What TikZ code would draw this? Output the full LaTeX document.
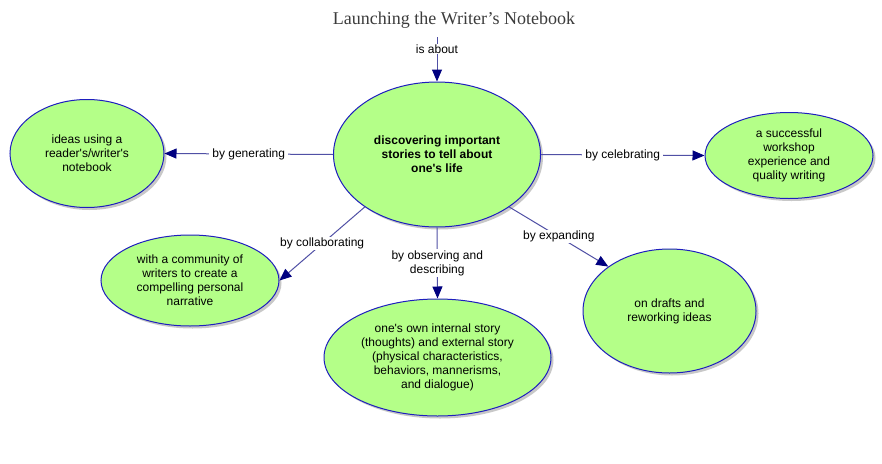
\documentclass[tikz,border=0pt]{standalone}
\usepackage{fontspec}
\setmainfont{Liberation Sans}[Ligatures=TeXOff]
\newfontfamily\titlefont{Liberation Serif}
\usetikzlibrary{shapes.geometric,arrows.meta,shadows}
\definecolor{ellfill}{RGB}{180,255,136}
\definecolor{ellline}{RGB}{30,30,190}
\definecolor{connc}{RGB}{80,80,165}
\definecolor{tipc}{RGB}{0,0,128}
\definecolor{titlec}{RGB}{60,60,60}
\tikzset{
  concept/.style={ellipse, draw=ellline, line width=1pt, fill=ellfill, inner sep=0pt,
    align=center, font=\fontsize{12}{14}\selectfont,
    drop shadow={opacity=0.3, shadow xshift=2.5pt, shadow yshift=-2.5pt, fill=black!70}},
  conn/.style={draw=connc, line width=1pt, -{Triangle[length=12pt,width=10pt,color=tipc]}},
  lab/.style={fill=white, inner xsep=3pt, inner ysep=1pt, align=center, text=black,
    font=\fontsize{12}{14}\selectfont},
}
\begin{document}
\begin{tikzpicture}[x=1pt,y=-1pt]
\fill[white] (0,0) rectangle (882,463);
\useasboundingbox (0,0) rectangle (882,463);

\node[font=\titlefont\fontsize{18}{20}\selectfont, text=titlec] (title) at (454,20) {Launching the Writer’s Notebook};
\coordinate (top) at (437,37);

\node[concept, minimum width=207pt, minimum height=145pt, font=\bfseries\fontsize{12}{14}\selectfont] (c) at (437,154.5)
  {discovering important\\stories to tell about\\one's life};
\node[concept, minimum width=154pt, minimum height=108pt] (g) at (87,153.5)
  {ideas using a\\reader's/writer's\\notebook};
\node[concept, minimum width=178pt, minimum height=91pt] (w) at (190,280.5)
  {with a community of\\writers to create a\\compelling personal\\narrative};
\node[concept, minimum width=227pt, minimum height=117pt] (o) at (437.5,357.5)
  {one's own internal story\\(thoughts) and external story\\(physical characteristics,\\behaviors, mannerisms,\\and dialogue)};
\node[concept, minimum width=173pt, minimum height=124pt] (d) at (669.5,311)
  {on drafts and\\reworking ideas};
\node[concept, minimum width=168pt, minimum height=86pt] (s) at (789,155.5)
  {a successful\\workshop\\experience and\\quality writing};

\draw[conn] (top) -- node[lab, pos=0.27] {is about} (c.north);
\draw[conn] (c.west) -- node[lab] {by generating} (g.east);
\draw[conn] (c.east) -- node[lab] {by celebrating} (s.west);
\draw[conn] (c.south) -- node[lab] {by observing and\\describing} (o.north);
\draw[conn] (c.216) -- node[lab] {by collaborating} (w.east);
\draw[conn] (c.-36) -- node[lab] {by expanding} (d.144);
\end{tikzpicture}
\end{document}
